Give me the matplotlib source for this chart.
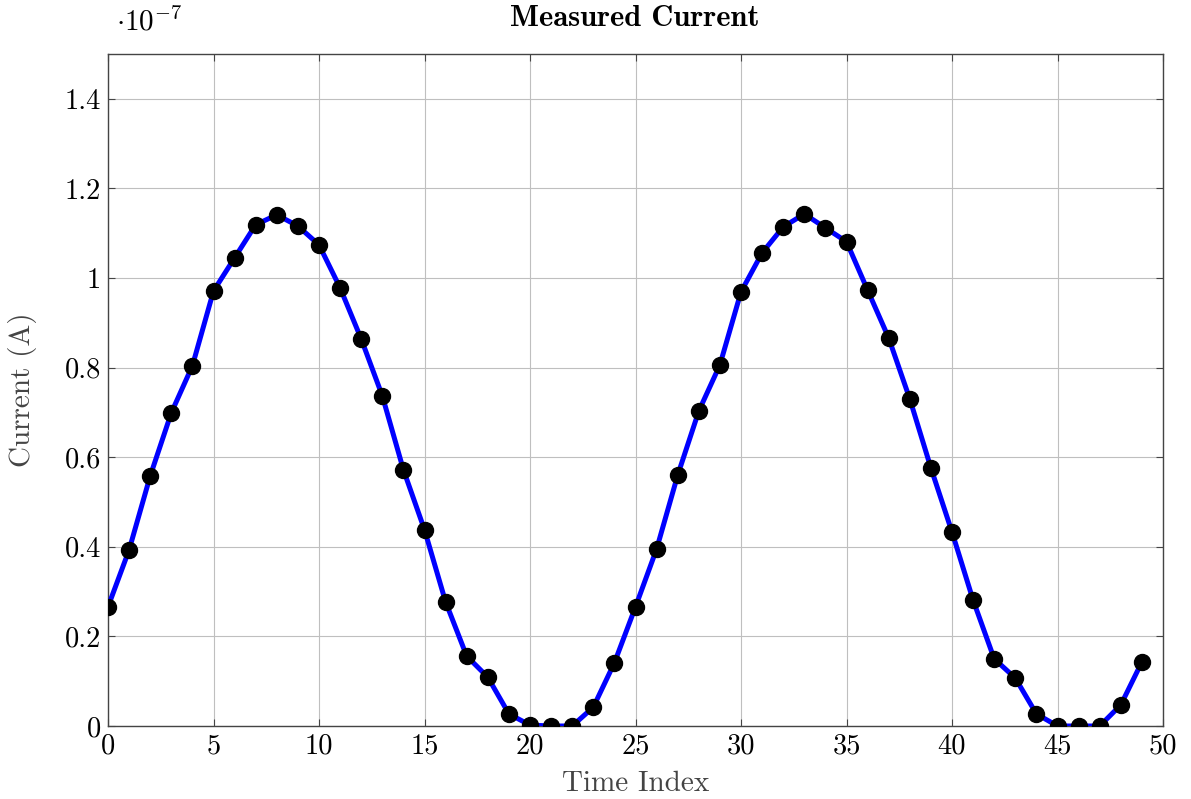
import matplotlib
matplotlib.use("Agg")
import matplotlib.pyplot as plt
from matplotlib.ticker import FuncFormatter, MultipleLocator

time_index = list(range(50))
current_e7 = [0.266, 0.393, 0.558, 0.699, 0.804, 0.971, 1.045, 1.119, 1.141, 1.116,
              1.074, 0.978, 0.864, 0.737, 0.572, 0.438, 0.277, 0.156, 0.109, 0.027,
              0.002, 0.0, 0.0, 0.042, 0.141, 0.266, 0.395, 0.560, 0.703, 0.806,
              0.969, 1.056, 1.114, 1.143, 1.112, 1.081, 0.973, 0.866, 0.730, 0.576,
              0.433, 0.281, 0.150, 0.107, 0.027, 0.0, 0.0, 0.0, 0.047, 0.143]
current = [v * 1e-7 for v in current_e7]

plt.rcParams['font.family'] = 'cmr10'
plt.rcParams['mathtext.fontset'] = 'cm'
plt.rcParams['axes.unicode_minus'] = False

fig = plt.figure(figsize=(11.91, 7.99), dpi=100)
ax = fig.add_axes([108/1191, (799-726)/799, (1163-108)/1191, (726-54)/799])

ax.plot(time_index, current, color='#0000ff', lw=3.6, marker='o', markersize=11.5,
        markerfacecolor='black', markeredgecolor='black', zorder=3)

ax.set_xlim(0, 50)
ax.set_ylim(0, 1.5e-7)
ax.xaxis.set_major_locator(MultipleLocator(5))
ax.yaxis.set_major_locator(MultipleLocator(0.2e-7))
ax.yaxis.set_major_formatter(FuncFormatter(lambda v, p: '%g' % round(v / 1e-7, 3)))
ax.grid(True, color='#bfbfbf', lw=0.8, zorder=0)
ax.set_axisbelow(True)
ax.tick_params(direction='in', length=5, width=0.8, color='#444444', top=True, right=True,
               labelsize=20.5, pad=5)
for s in ax.spines.values():
    s.set_color('#444444')
    s.set_linewidth(1.0)

ax.set_xlabel('Time Index', fontsize=21, color='#444444', labelpad=8)
ax.set_ylabel('Current (A)', fontsize=21, color='#444444', labelpad=20)
fig.text(635/1191, 1 - 19/799, 'Measured Current', fontsize=22, fontfamily='cmb10',
         ha='center', va='center')
fig.text(116/1191, 1 - 22/799, r'$\cdot 10^{-7}$', fontsize=21, va='center', ha='left')

fig.savefig('out.png', dpi=100)
